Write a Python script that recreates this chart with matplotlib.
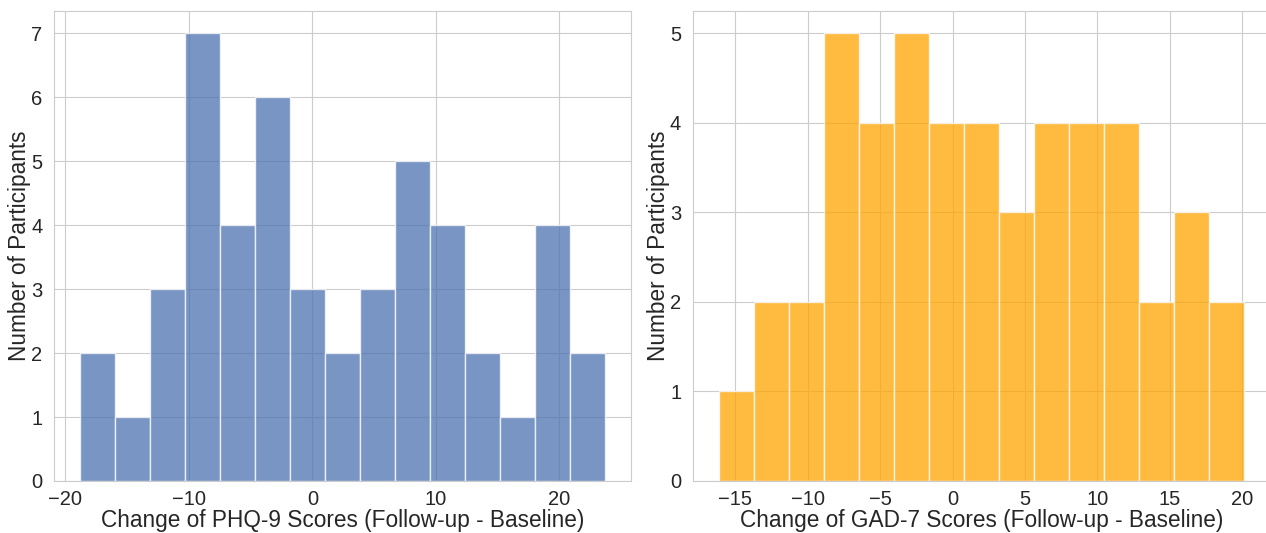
import numpy as np
import matplotlib
matplotlib.use("Agg")
import matplotlib.pyplot as plt
import seaborn as sns

# counts per bin
phq_counts = [2, 1, 3, 7, 4, 6, 3, 2, 3, 5, 4, 2, 1, 4, 2]
phq_range = (-18.8, 23.7)
gad_counts = [1, 2, 2, 5, 4, 5, 4, 4, 3, 4, 4, 4, 2, 3, 2]
gad_range = (-16.1, 20.1)

phq_label = "Change of PHQ-9 Scores (Follow-up - Baseline)"
gad_label = "Change of GAD-7 Scores (Follow-up - Baseline)"
y_label = "Number of Participants"

sns.set_style("whitegrid")
plt.rcParams["font.family"] = ["Arial", "Liberation Sans", "DejaVu Sans"]

fig = plt.figure(figsize=(12.66, 5.33), dpi=100)
ax1 = fig.add_axes([0.0427, 0.0976, 0.4558, 0.882])
ax2 = fig.add_axes([0.5474, 0.0976, 0.4558, 0.882])


def draw_hist(ax, counts, rng, color, xlabel):
    edges = np.linspace(rng[0], rng[1], len(counts) + 1)
    ax.bar(edges[:-1], counts, width=np.diff(edges), align="edge",
           color=color, alpha=0.75, edgecolor="white", linewidth=1)
    ax.set_xlabel(xlabel, fontsize=16.3, color="#262626", labelpad=0)
    ax.set_ylabel(y_label, fontsize=16.3, color="#262626", labelpad=0)
    ax.tick_params(labelsize=14.5, colors="#262626", pad=5)
    ax.tick_params(axis="x", pad=3)
    ax.set_axisbelow(True)


draw_hist(ax1, phq_counts, phq_range, "#4C72B0", phq_label)
draw_hist(ax2, gad_counts, gad_range, "orange", gad_label)

ax1.set_yticks(range(0, 8))
ax2.set_yticks(range(0, 6))
ax2.set_xticks(range(-15, 21, 5))

fig.savefig("out.png", dpi=100)
